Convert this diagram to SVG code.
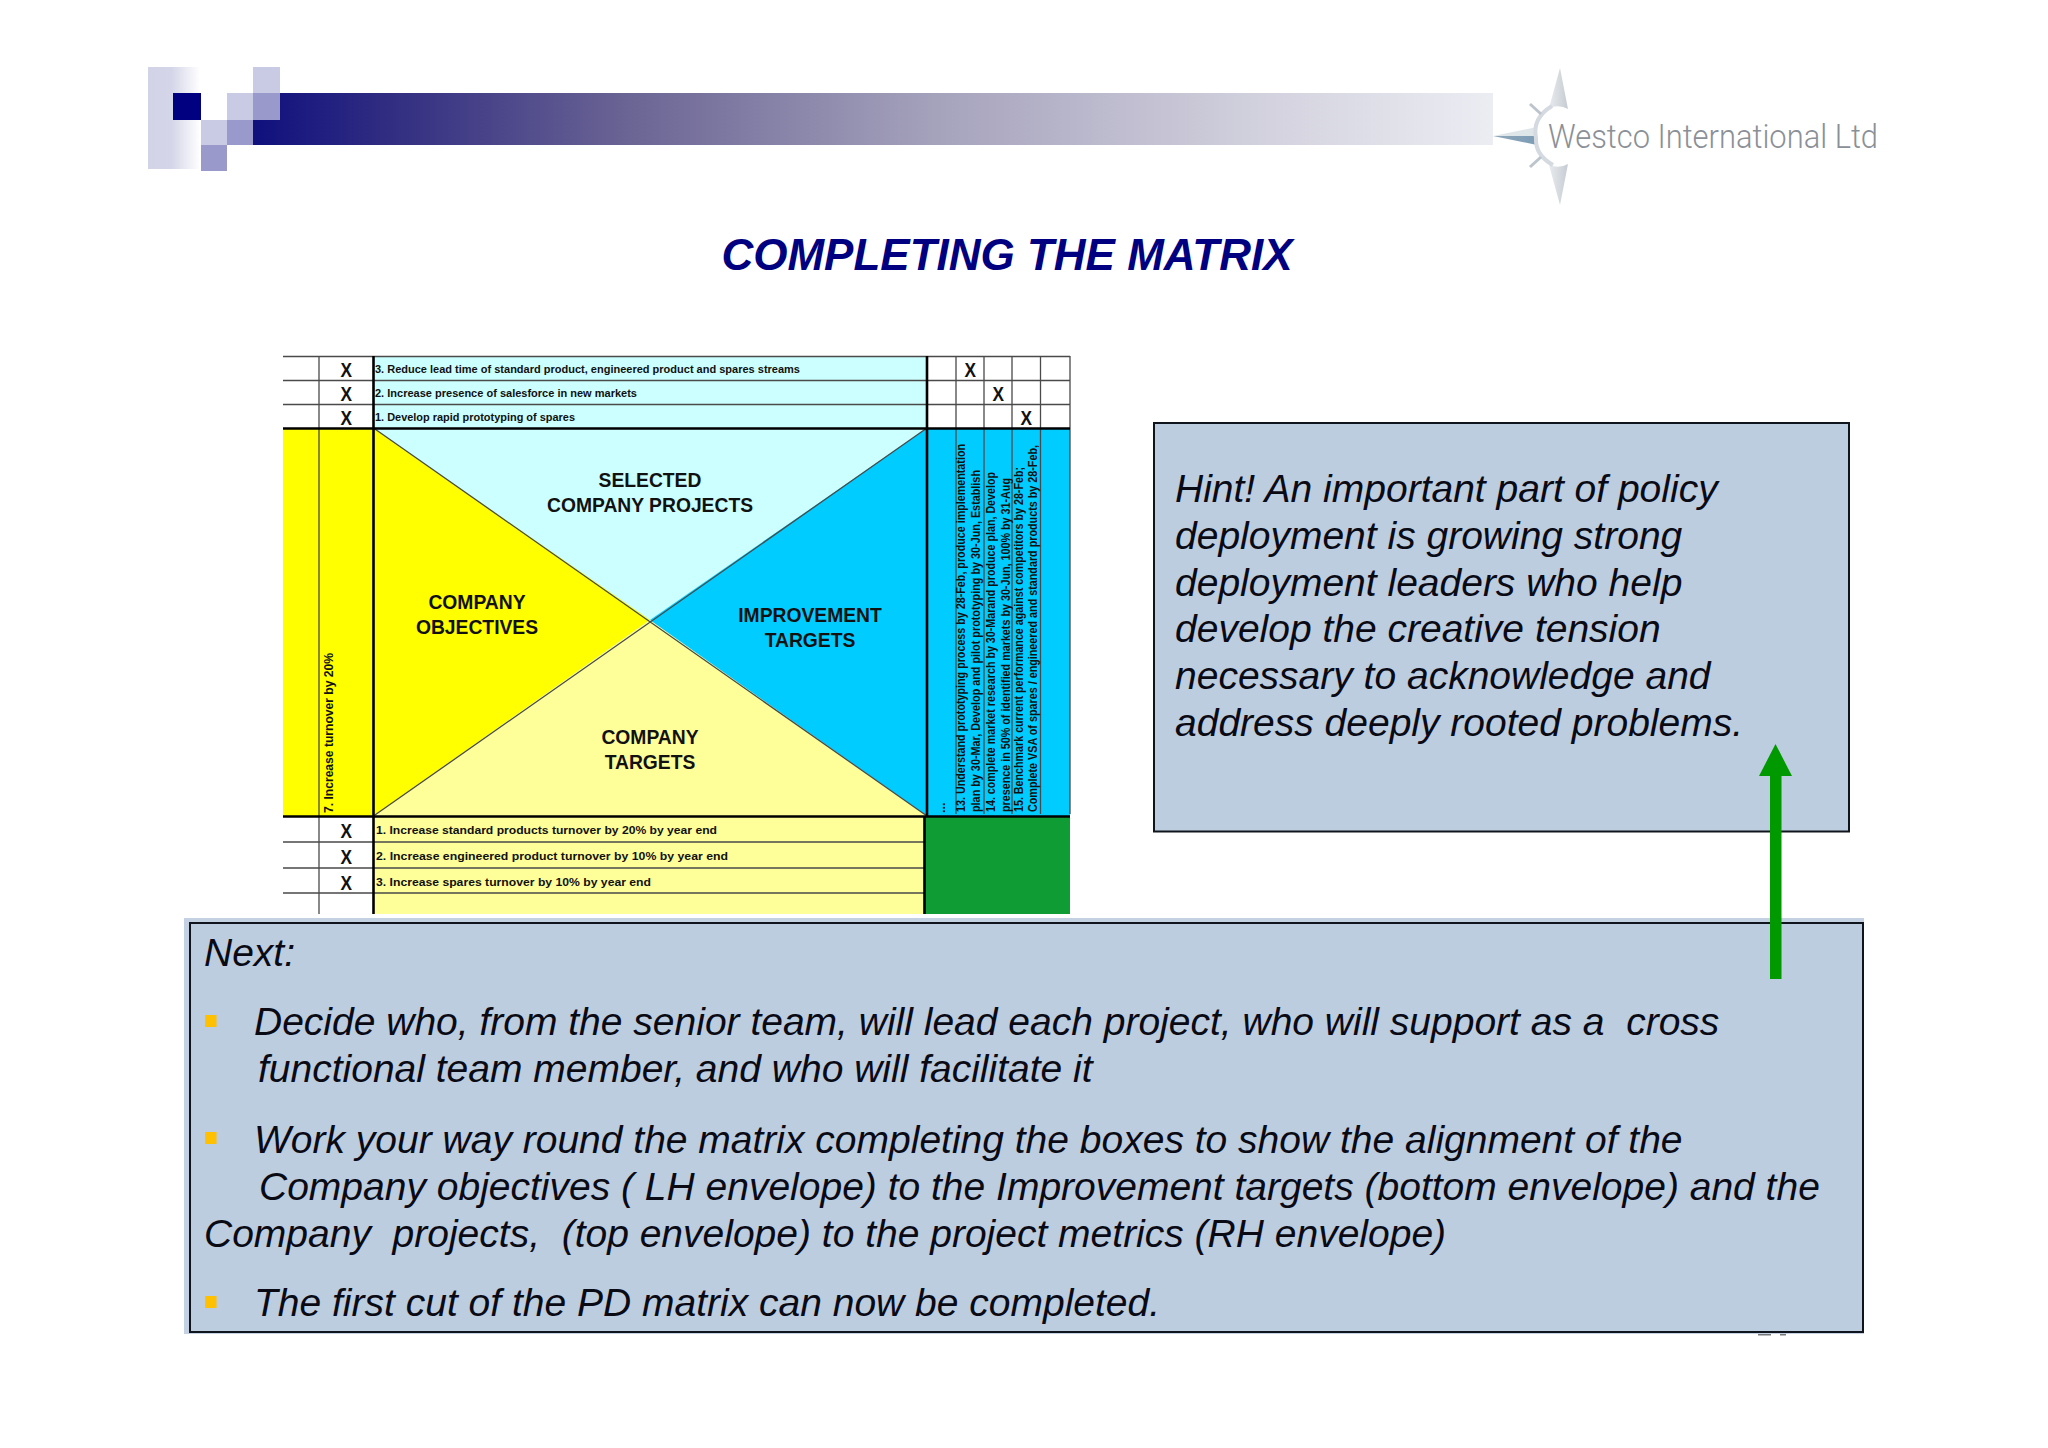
<svg xmlns="http://www.w3.org/2000/svg" width="2048" height="1448" viewBox="0 0 2048 1448">
<style>
text{font-family:"Liberation Sans",Arial,sans-serif}
.body{font-size:39px;font-style:italic;fill:#0a0a14;white-space:pre}
.row{font-size:11.5px;font-weight:bold;fill:#111}
.vt{font-size:12.5px;font-weight:bold;fill:#111}
.x{font-size:21px;font-weight:bold;fill:#111}
.lab{font-size:19.3px;font-weight:bold;fill:#111;text-anchor:middle}
.thin{stroke:#4a4a4a;stroke-width:1.3;fill:none}
.thick{stroke:#000;stroke-width:2.6;fill:none}
.box{fill:#bccde0;stroke:#10141c;stroke-width:2}
.li{fill:#c9cbe4}
.mid{fill:#9a99cc}
.bul{fill:#ffc000}
</style>
<defs>
<linearGradient id="bar" x1="0" x2="1" y1="0" y2="0">
<stop offset="0" stop-color="#10107e"/><stop offset="0.12" stop-color="#343082"/><stop offset="0.3" stop-color="#6a6494"/><stop offset="0.55" stop-color="#a5a2bc"/><stop offset="0.8" stop-color="#d0cfdc"/><stop offset="1" stop-color="#ecedf3"/>
</linearGradient>
<linearGradient id="fade" x1="0" x2="1" y1="0" y2="0">
<stop offset="0" stop-color="#d2d3e6"/><stop offset="0.45" stop-color="#d4d5e8"/><stop offset="1" stop-color="#ffffff"/>
</linearGradient>
<linearGradient id="spike" x1="0" x2="1" y1="0" y2="0">
<stop offset="0" stop-color="#e8ebee"/><stop offset="1" stop-color="#c6ccd3"/>
</linearGradient>
<linearGradient id="wpt" x1="0" x2="1" y1="0" y2="0">
<stop offset="0" stop-color="#8fa6b8"/><stop offset="1" stop-color="#7c9db6"/>
</linearGradient>
</defs>
<rect width="2048" height="1448" fill="#ffffff"/>

<g id="header">
<rect x="148" y="67" width="52" height="102" fill="url(#fade)"/>
<rect x="253" y="93" width="1240" height="52" fill="url(#bar)"/>
<rect x="173" y="93" width="28" height="27" fill="#000080"/>
<rect class="li" x="201" y="120" width="26" height="25"/>
<rect class="li" x="227" y="93" width="26" height="27"/>
<rect class="li" x="253" y="67" width="27" height="26"/>
<rect class="mid" x="253" y="93" width="27" height="27"/>
<rect class="mid" x="227" y="120" width="26" height="25"/>
<rect class="mid" x="201" y="145" width="26" height="26"/>
</g>

<g id="logo">
<path d="M1560 68L1549 108Q1559 104 1568 109Z" fill="url(#spike)"/>
<path d="M1560 205L1549 165Q1559 169 1568 164Z" fill="url(#spike)"/>
<path d="M1493 136L1537 127L1537 136Z" fill="#dfe6ea"/>
<path d="M1493 136L1537 136L1537 145Z" fill="url(#wpt)"/>
<path d="M1552 106Q1532 118 1536 138Q1535 155 1553 165" fill="none" stroke="#d4dae0" stroke-width="4"/>
<path d="M1530 104L1541 114M1530 167L1541 157" stroke="#bcc4cc" stroke-width="3" fill="none"/>
<text x="1548" y="148" font-size="33" textLength="330" lengthAdjust="spacingAndGlyphs" style="font-family:Roboto,'Open Sans',sans-serif;font-weight:300;fill:#8b9097">Westco International Ltd</text>
</g>

<g id="title">
<text x="1007" y="270" text-anchor="middle" font-size="44" font-weight="bold" font-style="italic" fill="#000080">COMPLETING THE MATRIX</text>
</g>

<g id="matrix">
<rect x="373.500" y="356" width="553.500" height="72" fill="#ccffff"/>
<rect x="283" y="428" width="90.500" height="388" fill="#ffff00"/>
<path d="M373.500 428H927V816H373.500Z" fill="#ccffff"/>
<path d="M373.500 428L650 620L373.500 816Z" fill="#ffff00"/>
<path d="M373.500 816L650 620L927 816Z" fill="#ffff99"/>
<path d="M927 428L650 620L927 816Z" fill="#00ccff"/>
<rect x="927" y="428" width="143" height="388" fill="#00ccff"/>
<rect x="373.500" y="816" width="551" height="98" fill="#ffff99"/>
<rect x="924.500" y="816" width="145.500" height="98" fill="#109c34"/>
<path class="thin" d="M373.500 428L927 816M373.500 816L927 428"/>
<path class="thin" d="M283 356.500H1070M283 380.500H1070M283 404.500H1070M283 842H924M283 868H924M283 893H924M319 356V428M319 428V816M319 816V914M956 356V814M984 356V814M1012 356V814M1040.500 356V814M1070 356V814"/>
<path class="thick" d="M283 428.500H1070M283 816.500H1070M373.500 356V914M927 356V816M924.500 816V914"/>
<g>
<text class="x" x="340.500" y="377" textLength="11.500" lengthAdjust="spacingAndGlyphs">X</text><text class="x" x="340.500" y="401" textLength="11.500" lengthAdjust="spacingAndGlyphs">X</text><text class="x" x="340.500" y="425" textLength="11.500" lengthAdjust="spacingAndGlyphs">X</text>
<text class="x" x="964.500" y="377" textLength="11.500" lengthAdjust="spacingAndGlyphs">X</text><text class="x" x="992.500" y="401" textLength="11.500" lengthAdjust="spacingAndGlyphs">X</text><text class="x" x="1020.500" y="425" textLength="11.500" lengthAdjust="spacingAndGlyphs">X</text>
<text class="x" x="340.500" y="838" textLength="11.500" lengthAdjust="spacingAndGlyphs">X</text><text class="x" x="340.500" y="864" textLength="11.500" lengthAdjust="spacingAndGlyphs">X</text><text class="x" x="340.500" y="890" textLength="11.500" lengthAdjust="spacingAndGlyphs">X</text>
</g>
<text class="row" x="375" y="373" textLength="425" lengthAdjust="spacingAndGlyphs">3. Reduce lead time of standard product, engineered product and spares streams</text>
<text class="row" x="375" y="397" textLength="262" lengthAdjust="spacingAndGlyphs">2. Increase presence of salesforce in new markets</text>
<text class="row" x="375" y="421" textLength="200" lengthAdjust="spacingAndGlyphs">1. Develop rapid prototyping of spares</text>
<text class="row" x="376" y="834" textLength="341" lengthAdjust="spacingAndGlyphs">1. Increase standard products turnover by 20% by year end</text>
<text class="row" x="376" y="860" textLength="352" lengthAdjust="spacingAndGlyphs">2. Increase engineered product turnover by 10% by year end</text>
<text class="row" x="376" y="886" textLength="275" lengthAdjust="spacingAndGlyphs">3. Increase spares turnover by 10% by year end</text>
<text class="lab" x="650" y="487">SELECTED</text><text class="lab" x="650" y="512">COMPANY PROJECTS</text>
<text class="lab" x="477" y="609">COMPANY</text><text class="lab" x="477" y="634">OBJECTIVES</text>
<text class="lab" x="810" y="622">IMPROVEMENT</text><text class="lab" x="810" y="647">TARGETS</text>
<text class="lab" x="650" y="744">COMPANY</text><text class="lab" x="650" y="769">TARGETS</text>
<text class="vt" transform="translate(333 813) rotate(-90)" textLength="160" lengthAdjust="spacingAndGlyphs">7. Increase turnover by 20%</text>
<text class="vt" transform="translate(945 813) rotate(-90)">...</text>
<text class="vt" transform="translate(965 812) rotate(-90)" textLength="368" lengthAdjust="spacingAndGlyphs">13. Understand prototyping process by 28-Feb, produce implementation</text>
<text class="vt" transform="translate(980 812) rotate(-90)" textLength="342" lengthAdjust="spacingAndGlyphs">plan by 30-Mar, Develop and pilot prototyping by 30-Jun, Establish</text>
<text class="vt" transform="translate(995 812) rotate(-90)" textLength="340" lengthAdjust="spacingAndGlyphs">14. complete market research by 30-Marand produce plan, Develop</text>
<text class="vt" transform="translate(1010 812) rotate(-90)" textLength="334" lengthAdjust="spacingAndGlyphs">presence in 50% of identified markets by 30-Jun, 100% by 31-Aug</text>
<text class="vt" transform="translate(1023 812) rotate(-90)" textLength="345" lengthAdjust="spacingAndGlyphs">15. Benchmark current performance against competitors by 28-Feb;</text>
<text class="vt" transform="translate(1037 812) rotate(-90)" textLength="367" lengthAdjust="spacingAndGlyphs">Complete VSA of spares / engineered and standard products by 28-Feb,</text>
</g>

<g id="hint">
<rect class="box" x="1154" y="423" width="695" height="408.500"/>
<text class="body" x="1175" y="502">Hint! An important part of policy</text>
<text class="body" x="1175" y="549">deployment is growing strong</text>
<text class="body" x="1175" y="596">deployment leaders who help</text>
<text class="body" x="1175" y="642">develop the creative tension</text>
<text class="body" x="1175" y="689">necessary to acknowledge and</text>
<text class="body" x="1175" y="736">address deeply rooted problems.</text>
</g>

<g id="page-number-remnant">
<rect x="1758" y="1333" width="13" height="2.500" fill="#77787c"/>
<rect x="1780" y="1333" width="6" height="2.500" fill="#77787c"/>
</g>

<g id="next">
<rect x="184" y="918" width="1680" height="416" fill="#c3d1e3"/>
<rect class="box" x="190" y="923" width="1673" height="409"/>
<text class="body" x="204" y="966">Next:</text>
<rect class="bul" x="205" y="1015" width="11.500" height="12"/>
<text class="body" x="254" y="1035">Decide who, from the senior team, will lead each project, who will support as a  cross</text>
<text class="body" x="258" y="1082">functional team member, and who will facilitate it</text>
<rect class="bul" x="205" y="1132" width="11.500" height="12"/>
<text class="body" x="254" y="1153">Work your way round the matrix completing the boxes to show the alignment of the</text>
<text class="body" x="259" y="1200">Company objectives ( LH envelope) to the Improvement targets (bottom envelope) and the</text>
<text class="body" x="204" y="1247">Company  projects,  (top envelope) to the project metrics (RH envelope)</text>
<rect class="bul" x="205" y="1296" width="11.500" height="12"/>
<text class="body" x="254" y="1316">The first cut of the PD matrix can now be completed.</text>
</g>

<g id="connectors">
<path d="M1770 979V776H1759L1775.500 744L1792 776H1781.500V979Z" fill="#009a00"/>
</g>
</svg>
